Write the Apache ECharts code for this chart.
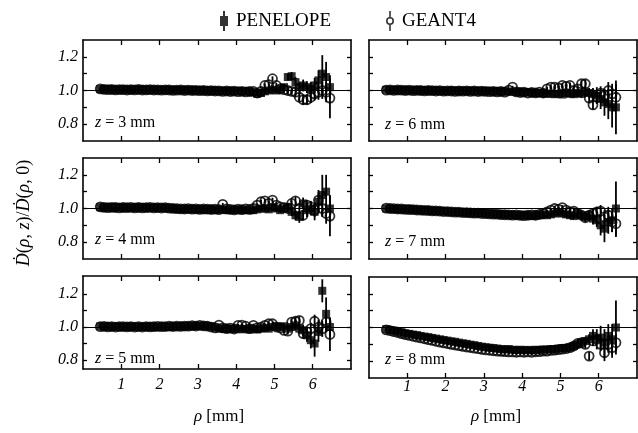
<!DOCTYPE html>
<html><head><meta charset="utf-8">
<script src="https://cdn.jsdelivr.net/npm/echarts@6/dist/echarts.min.js"></script>
<style>html,body{margin:0;padding:0;background:#fff}#c{width:638px;height:433px}</style>
</head><body><div id="c"></div>
<script>
// radial positions (mm)
const rho = [0.45,0.55,0.65,0.75,0.85,0.95,1.05,1.15,1.25,1.35,
 1.45,1.55,1.65,1.75,1.85,1.95,2.05,2.15,2.25,2.35,
 2.45,2.55,2.65,2.75,2.85,2.95,3.05,3.15,3.25,3.35,
 3.45,3.55,3.65,3.75,3.85,3.95,4.05,4.15,4.25,4.35,
 4.45,4.55,4.65,4.75,4.85,4.95,5.05,5.15,5.25,5.35,
 5.45,5.55,5.65,5.75,5.85,5.95,6.05,6.15,6.25,6.35,
 6.45];
const xTicks = [1,2,3,4,5,6];
const yTicks = [0.8,0.9,1.0,1.1,1.2];
const yLabels = [0.8,1.0,1.2];
const refLine = 1.0;

// z = 3 mm
const penZ3 = [1.008,1.006,1.007,1.005,1.006,1.004,1.006,1.005,1.004,1.006,
 1.005,1.004,1.006,1.003,1.005,1.004,1.003,1.005,1.002,1.004,
 1.003,1.002,1.004,1.001,1.003,1.0,1.002,0.999,1.001,0.998,
 0.999,0.997,0.998,0.996,0.998,0.995,0.997,0.994,0.996,0.993,
 0.99,0.98,0.985,0.995,1.0,1.005,1.0,1.01,1.02,1.08,
 1.085,1.05,1.02,1.03,1.02,1.01,1.03,1.06,1.1,1.08,
 1.02];
const geantZ3 = [1.01,1.007,1.005,1.006,1.004,1.005,1.005,1.003,1.005,1.004,
 1.006,1.003,1.004,1.005,1.003,1.004,1.002,1.004,1.003,1.001,
 1.002,1.003,1.0,1.002,1.0,1.001,0.999,1.0,0.998,0.999,
 0.997,0.998,0.995,0.997,0.994,0.996,0.993,0.995,0.992,0.994,
 0.995,0.985,0.995,1.03,1.035,1.07,1.03,1.01,1.005,1.0,
 0.995,0.99,0.96,0.945,0.945,0.96,0.98,0.99,1.0,0.99,
 0.955];
// z = 4 mm
const penZ4 = [1.008,1.006,1.007,1.005,1.006,1.007,1.005,1.006,1.004,1.006,
 1.005,1.007,1.004,1.006,1.005,1.003,1.006,1.004,1.002,1.0,
 0.998,0.997,0.996,0.998,0.995,0.997,0.994,0.996,0.993,0.995,
 0.994,0.992,0.995,0.99,0.993,0.991,0.994,0.99,0.992,0.99,
 0.99,0.995,1.0,1.0,0.995,1.005,1.0,0.99,1.0,1.01,
 0.98,0.96,0.95,1.03,0.99,1.0,0.98,1.04,1.08,1.1,
 1.0];
const geantZ4 = [1.01,1.007,1.005,1.007,1.006,1.004,1.006,1.005,1.007,1.004,
 1.006,1.004,1.005,1.007,1.004,1.005,1.003,1.005,1.002,1.001,
 0.999,0.998,0.997,0.999,0.996,0.998,0.995,0.997,0.996,0.994,
 0.996,0.993,1.025,0.998,0.995,0.992,0.996,0.993,0.998,0.995,
 1.0,1.02,1.04,1.045,1.03,1.05,1.02,1.01,1.005,1.0,
 1.03,1.045,1.0,0.96,1.02,1.01,0.99,1.05,1.0,0.97,
 0.955];
// z = 5 mm
const penZ5 = [1.004,1.002,1.003,1.001,1.003,1.002,1.0,1.002,1.001,1.003,
 1.0,1.002,1.001,1.003,1.0,1.002,1.001,1.003,1.002,1.004,
 1.003,1.005,1.004,1.006,1.005,1.007,1.006,1.008,1.006,1.004,
 0.998,0.99,0.992,0.988,0.99,0.987,0.99,0.986,0.989,0.985,
 0.99,0.985,0.99,0.995,0.99,1.0,1.005,1.0,1.005,0.99,
 1.0,1.01,0.99,0.98,0.95,0.92,0.9,0.97,1.22,1.08,
 1.0];
const geantZ5 = [1.002,1.004,1.001,1.003,1.0,1.002,1.003,1.001,1.003,1.0,
 1.002,1.0,1.003,1.001,1.002,1.004,1.002,1.003,1.005,1.003,
 1.005,1.004,1.006,1.005,1.008,1.006,1.01,1.007,1.005,1.0,
 0.995,1.012,0.995,0.99,0.993,0.988,1.01,1.012,1.005,0.99,
 1.01,0.995,1.0,1.01,1.02,1.02,1.0,0.995,0.98,0.975,
 1.03,1.035,1.04,0.96,0.97,0.99,1.035,1.0,0.99,1.03,
 0.955];
// z = 6 mm
const penZ6 = [1.004,1.003,1.002,1.003,1.001,1.002,1.0,1.002,1.001,0.999,
 1.001,1.0,0.998,1.0,0.999,0.997,0.999,0.998,1.0,0.996,
 0.998,0.997,0.999,0.996,0.998,0.995,0.997,0.996,0.994,0.996,
 0.993,0.995,0.992,0.994,0.99,0.992,0.989,0.99,0.987,0.985,
 0.983,0.985,0.98,0.982,0.978,0.98,0.976,0.985,0.98,0.978,
 0.985,0.98,0.99,0.985,0.98,0.97,0.95,0.93,0.92,0.9,
 0.9];
const geantZ6 = [1.002,1.004,1.001,1.003,1.002,1.0,1.002,0.999,1.001,1.0,
 0.998,1.0,0.999,0.997,0.999,0.996,0.998,0.997,0.995,0.997,
 0.996,0.998,0.995,0.997,0.994,0.996,0.995,0.993,0.995,0.992,
 0.994,0.99,1.002,1.02,0.992,0.988,0.99,0.985,0.988,0.986,
 0.99,0.985,1.01,1.02,1.02,1.015,1.03,1.025,1.03,1.0,
 1.01,1.04,1.04,0.955,0.915,0.96,0.985,0.97,1.0,0.98,
 0.96];
// z = 7 mm
const penZ7 = [1.0,0.999,0.998,0.997,0.996,0.995,0.995,0.993,0.992,0.99,
 0.99,0.988,0.987,0.985,0.985,0.983,0.982,0.98,0.98,0.978,
 0.977,0.976,0.975,0.974,0.972,0.972,0.97,0.968,0.968,0.966,
 0.965,0.963,0.963,0.961,0.96,0.96,0.958,0.96,0.957,0.958,
 0.96,0.965,0.96,0.965,0.97,0.975,0.97,0.965,0.96,0.955,
 0.97,0.96,0.95,0.96,0.94,0.93,0.9,0.88,0.92,0.93,
 1.0];
const geantZ7 = [1.002,1.0,0.999,0.997,0.997,0.995,0.994,0.993,0.991,0.99,
 0.989,0.988,0.986,0.986,0.984,0.982,0.982,0.98,0.978,0.978,
 0.976,0.975,0.974,0.972,0.973,0.97,0.969,0.968,0.966,0.966,
 0.964,0.963,0.962,0.961,0.962,0.959,0.958,0.96,0.962,0.96,
 0.965,0.97,0.98,0.99,1.0,0.995,1.005,0.99,0.98,0.985,
 0.97,0.96,0.945,0.96,0.97,0.98,0.985,0.95,0.96,0.92,
 0.91];
// z = 8 mm
const penZ8 = [0.99,0.985,0.982,0.976,0.972,0.966,0.962,0.958,0.955,0.95,
 0.946,0.943,0.938,0.934,0.93,0.926,0.922,0.918,0.915,0.91,
 0.906,0.903,0.898,0.895,0.89,0.886,0.883,0.88,0.878,0.875,
 0.872,0.87,0.872,0.868,0.866,0.868,0.865,0.867,0.864,0.868,
 0.866,0.87,0.868,0.872,0.87,0.875,0.878,0.876,0.882,0.89,
 0.9,0.91,0.92,0.93,0.95,0.93,0.94,0.91,0.95,0.93,
 1.0];
const geantZ8 = [0.986,0.981,0.975,0.97,0.964,0.958,0.953,0.948,0.943,0.938,
 0.933,0.928,0.923,0.918,0.913,0.909,0.905,0.9,0.896,0.892,
 0.888,0.884,0.881,0.877,0.874,0.87,0.867,0.865,0.862,0.86,
 0.858,0.857,0.855,0.855,0.853,0.855,0.853,0.855,0.853,0.856,
 0.857,0.86,0.86,0.864,0.866,0.868,0.871,0.874,0.88,0.89,
 0.905,0.91,0.9,0.83,0.92,0.93,0.9,0.85,0.9,0.88,
 0.91];

// statistical uncertainties: common part (first 50 radii) + tails (last 11 radii)
const errCore = [0.004,0.004,0.004,0.004,0.004,0.004,0.004,0.004,0.004,0.004,
 0.005,0.005,0.005,0.005,0.005,0.005,0.005,0.005,0.005,0.005,
 0.006,0.006,0.006,0.006,0.006,0.006,0.006,0.006,0.006,0.006,
 0.008,0.008,0.008,0.008,0.008,0.008,0.008,0.008,0.008,0.008,
 0.01,0.01,0.012,0.012,0.014,0.014,0.015,0.016,0.018,0.02];
const penErrTailZ3 = [0.025,0.03,0.03,0.035,0.035,0.04,0.045,0.06,0.11,0.09,0.07];
const geantErrTailZ3 = [0.02,0.025,0.025,0.03,0.03,0.035,0.04,0.045,0.05,0.06,0.12];
const penErrTailZ4 = [0.025,0.03,0.035,0.035,0.04,0.04,0.05,0.07,0.12,0.1,0.08];
const geantErrTailZ4 = [0.02,0.025,0.025,0.03,0.03,0.035,0.04,0.045,0.05,0.06,0.12];
const penErrTailZ5 = [0.025,0.03,0.03,0.035,0.04,0.05,0.08,0.06,0.07,0.1,0.06];
const geantErrTailZ5 = [0.02,0.025,0.025,0.03,0.03,0.035,0.04,0.045,0.05,0.06,0.1];
const penErrTailZ6 = [0.02,0.025,0.03,0.03,0.035,0.05,0.06,0.08,0.09,0.12,0.16];
const geantErrTailZ6 = [0.02,0.02,0.025,0.03,0.03,0.035,0.04,0.04,0.05,0.06,0.08];
const penErrTailZ7 = [0.02,0.025,0.025,0.03,0.035,0.04,0.06,0.08,0.07,0.07,0.16];
const geantErrTailZ7 = [0.02,0.02,0.025,0.025,0.03,0.03,0.035,0.04,0.05,0.06,0.08];
const penErrTailZ8 = [0.02,0.025,0.025,0.03,0.04,0.06,0.07,0.08,0.07,0.09,0.16];
const geantErrTailZ8 = [0.02,0.02,0.025,0.025,0.03,0.03,0.04,0.05,0.05,0.06,0.05];

const panelLabels = ['3','6','4','7','5','8'];

const panels = [
  {z:panelLabels[0], pen:penZ3, geant:geantZ3, penTail:penErrTailZ3, geantTail:geantErrTailZ3},
  {z:panelLabels[1], pen:penZ6, geant:geantZ6, penTail:penErrTailZ6, geantTail:geantErrTailZ6},
  {z:panelLabels[2], pen:penZ4, geant:geantZ4, penTail:penErrTailZ4, geantTail:geantErrTailZ4},
  {z:panelLabels[3], pen:penZ7, geant:geantZ7, penTail:penErrTailZ7, geantTail:geantErrTailZ7},
  {z:panelLabels[4], pen:penZ5, geant:geantZ5, penTail:penErrTailZ5, geantTail:geantErrTailZ5},
  {z:panelLabels[5], pen:penZ8, geant:geantZ8, penTail:penErrTailZ8, geantTail:geantErrTailZ8}
];

// layout (pixels)
const layout = [
  {left:83, top:40, height:101, min:0.7, max:1.3, col:0, row:0, lx:95, ly:123},
  {left:369, top:40, height:101, min:0.7, max:1.3, col:1, row:0, lx:385, ly:125},
  {left:83, top:158, height:101, min:0.7, max:1.3, col:0, row:1, lx:95, ly:240},
  {left:369, top:158, height:101, min:0.7, max:1.3, col:1, row:1, lx:385, ly:242},
  {left:83, top:276, height:93, min:0.745, max:1.31, col:0, row:2, lx:95, ly:359, xm:8},
  {left:369, top:277, height:101, min:0.7, max:1.3, col:1, row:2, lx:385, ly:360, xm:1}
];

const FONT = '"Liberation Serif", "DejaVu Serif", serif';
const chart = echarts.init(document.getElementById('c'), null, {renderer:'canvas'});

const grids = [], xAxes = [], yAxes = [], series = [], graphics = [];
const lineBlack = {color:'#000', width:1.6};

function errOf(tail, k){ return k < errCore.length ? errCore[k] : tail[k - errCore.length]; }
function errRender(params, api){
  const x = api.value(0), y = api.value(1), e = api.value(2);
  const p1 = api.coord([x, y - e]), p2 = api.coord([x, y + e]);
  return {type:'line', shape:{x1:p1[0], y1:p1[1], x2:p2[0], y2:p2[1]}, style:{stroke:'#000', lineWidth:1.8}};
}

panels.forEach((p, i) => {
  const L = layout[i];
  grids.push({left:L.left, top:L.top, width:268, height:L.height, show:false, containLabel:false, outerBoundsMode:'none'});
  const xBase = {type:'value', gridIndex:i, min:0, max:7,
    axisLine:{show:true, onZero:false, lineStyle:lineBlack},
    axisTick:{show:true, inside:true, length:5, customValues:xTicks, lineStyle:{color:'#000', width:1.3}},
    splitLine:{show:false}};
  xAxes.push(Object.assign({}, xBase, {position:'bottom',
    axisLabel:{show:L.row === 2, customValues:xTicks, margin:L.xm || 2, color:'#000', fontFamily:FONT, fontStyle:'italic', fontSize:16}}));
  xAxes.push(Object.assign({}, xBase, {position:'top', axisLabel:{show:false}}));
  const yBase = {type:'value', gridIndex:i, min:L.min, max:L.max,
    axisLine:{show:true, onZero:false, lineStyle:lineBlack},
    axisTick:{show:true, inside:true, length:4, customValues:yTicks, lineStyle:{color:'#000', width:1.3}},
    splitLine:{show:false}};
  yAxes.push(Object.assign({}, yBase, {position:'left',
    axisLabel:{show:L.col === 0, customValues:yLabels, margin:5, formatter:v => v.toFixed(1), color:'#000', fontFamily:FONT, fontStyle:'italic', fontSize:16}}));
  yAxes.push(Object.assign({}, yBase, {position:'right', axisLabel:{show:false}}));

  const xi = 2*i, yi = 2*i;
  series.push({type:'custom', name:'PENELOPE err', xAxisIndex:xi, yAxisIndex:yi, silent:true, renderItem:errRender,
    encode:{x:0, y:1}, data:rho.map((r,k) => [r, p.pen[k], errOf(p.penTail, k)]), z:2});
  series.push({type:'scatter', name:'PENELOPE', xAxisIndex:xi, yAxisIndex:yi, silent:true, symbol:'rect', symbolSize:8,
    itemStyle:{color:'#000'}, data:rho.map((r,k) => [r, p.pen[k]]), z:3,
    markLine:{silent:true, symbol:'none', label:{show:false}, animation:false,
      lineStyle:{color:'#000', width:1, type:'solid'}, data:[{yAxis:refLine}]}});
  series.push({type:'custom', name:'GEANT4 err', xAxisIndex:xi, yAxisIndex:yi, silent:true, renderItem:errRender,
    encode:{x:0, y:1}, data:rho.map((r,k) => [r, p.geant[k], errOf(p.geantTail, k)]), z:4});
  series.push({type:'scatter', name:'GEANT4', xAxisIndex:xi, yAxisIndex:yi, silent:true, symbol:'circle', symbolSize:9,
    itemStyle:{color:'rgba(255,255,255,0)', borderColor:'#000', borderWidth:1.8}, data:rho.map((r,k) => [r, p.geant[k]]), z:5});

  graphics.push({type:'text', x:L.lx, y:L.ly, silent:true, style:{
    text:'{i|z} = ' + p.z + ' mm', fill:'#000', fontFamily:FONT, fontSize:16,
    textAlign:'left', align:'left', textVerticalAlign:'middle', verticalAlign:'middle',
    rich:{i:{fontStyle:'italic', fontFamily:FONT, fontSize:16, fill:'#000'}}}});
});

// axis titles
[{x:219, y:417}, {x:496, y:417}].forEach(t => graphics.push({type:'text', x:t.x, y:t.y, silent:true, style:{
  text:'{i|ρ} [mm]', fill:'#000', fontFamily:FONT, fontSize:17,
  textAlign:'center', align:'center', textVerticalAlign:'middle', verticalAlign:'middle',
  rich:{i:{fontStyle:'italic', fontFamily:FONT, fontSize:17, fill:'#000'}}}}));
graphics.push({type:'text', x:24, y:213, rotation:Math.PI/2, silent:true, style:{
  text:'{i|Ḋ}({i|ρ}, {i|z})/{i|Ḋ}({i|ρ}, 0)', fill:'#000', fontFamily:FONT, fontSize:18,
  textAlign:'center', align:'center', textVerticalAlign:'middle', verticalAlign:'middle',
  rich:{i:{fontStyle:'italic', fontFamily:FONT, fontSize:18, fill:'#000'}}}});

const penIcon = 'path://M3,0H5V5H8V15H5V20H3V15H0V5H3Z';
const geantIcon = 'path://M3.2,0H4.8V6.2H3.2Z M3.2,13.8H4.8V20H3.2Z M0,10A4,4 0 1,1 8,10A4,4 0 1,1 0,10Z M1.6,10A2.4,2.4 0 1,0 6.4,10A2.4,2.4 0 1,0 1.6,10Z';
const legendText = {color:'#000', fontFamily:FONT, fontSize:19, padding:[0,0,0,3]};

chart.setOption({
  animation:false,
  backgroundColor:'#fff',
  grid:grids, xAxis:xAxes, yAxis:yAxes, series:series, graphic:graphics,
  legend:[
    {data:[{name:'PENELOPE', icon:penIcon, itemStyle:{color:'#000', borderWidth:0}}], left:220, top:11, padding:0,
      itemWidth:8, itemHeight:20, selectedMode:false, textStyle:legendText},
    {data:[{name:'GEANT4', icon:geantIcon, itemStyle:{color:'#000', borderWidth:0}}], left:386, top:11, padding:0,
      itemWidth:8, itemHeight:20, selectedMode:false, textStyle:legendText}
  ]
});
</script></body></html>
